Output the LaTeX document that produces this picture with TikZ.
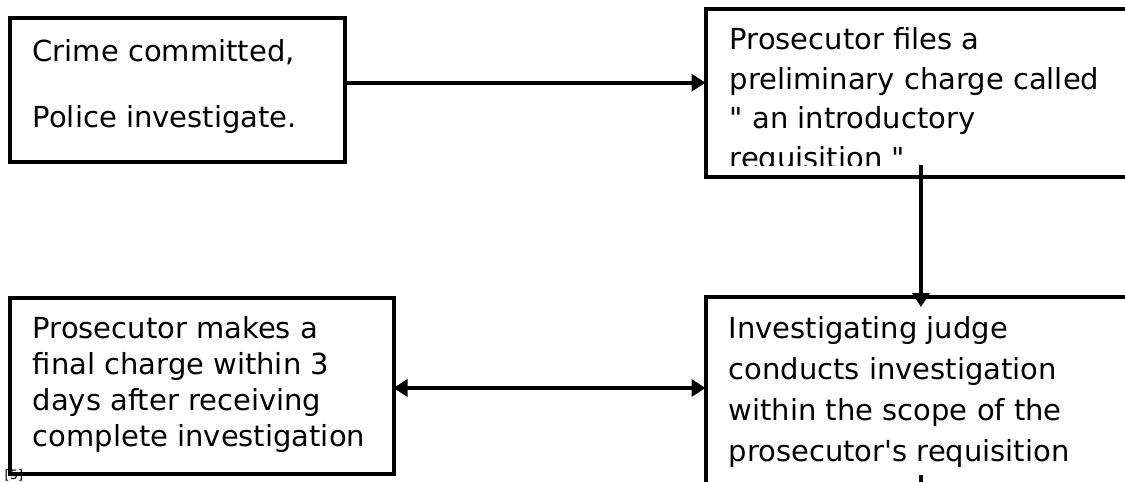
\documentclass[tikz,border=0pt]{standalone}
\usepackage{fontspec}
\setmainfont{DejaVu Sans}[Ligatures=TeXOff]
\usetikzlibrary{arrows.meta}

\begin{document}
\begin{tikzpicture}[x=1pt, y=-1pt, line width=3.5pt,
    >={Triangle[length=14pt, width=17pt]},
    box/.style={draw, line width=4pt, outer sep=0pt, inner sep=0pt, anchor=north west},
    txt/.style={font=\fontsize{29}{#1}\selectfont, align=left, inner sep=0pt, anchor=north west}]
    \useasboundingbox (0,0) rectangle (1125,482);
    \clip (0,0) rectangle (1125,482);
    % boxes
    \node[box, minimum width=335.5pt, minimum height=143.5pt] (crime) at (9.5,18) {};
    \node[box, minimum width=480pt, minimum height=167.5pt] (charge) at (705.5,9) {};
    \node[box, minimum width=384pt, minimum height=176pt] (final) at (9.5,297.5) {};
    \node[box, minimum width=480pt, minimum height=189pt] (judge) at (705.5,297) {};
    % texts, the strut puts the first baseline 0.7 baselineskip below the top
    \node[txt=66] (crimetxt) at (31,13.8) {\strut Crime committed,\\Police investigate.};
    \begin{scope}
      \clip (705.5,9) rectangle (1125,165);
      \node[txt=39.5] (chargetxt) at (728,20.35) {\strut Prosecutor files a\\preliminary charge called\\" an introductory\\requisition "};
    \end{scope}
    \node[txt=36] (finaltxt) at (31,311.8) {\strut Prosecutor makes a\\final charge within 3\\days after receiving\\complete investigation};
    \node[txt=41] (judgetxt) at (727,308.3) {\strut Investigating judge\\conducts investigation\\within the scope of the\\prosecutor's requisition};
    \node[font=\fontsize{13}{13}\selectfont, anchor=north west, inner sep=0pt] (note) at (3,468) {[5]};
    % connectors
    \draw[->] ([yshift=7pt]crime.east) -- ([yshift=7pt]crime.east -| charge.west);
    \draw[->] ([xshift=215.5pt, yshift=11.5pt]charge.south west) -- ([xshift=215.5pt, yshift=-10pt]judge.north west);
    \draw[<->] ([yshift=-2.5pt]final.east) -- ([yshift=-2.5pt]final.east -| judge.west);
    \draw ([xshift=215.5pt, yshift=11pt]judge.south west) -- ++(0,20);
\end{tikzpicture}
\end{document}
